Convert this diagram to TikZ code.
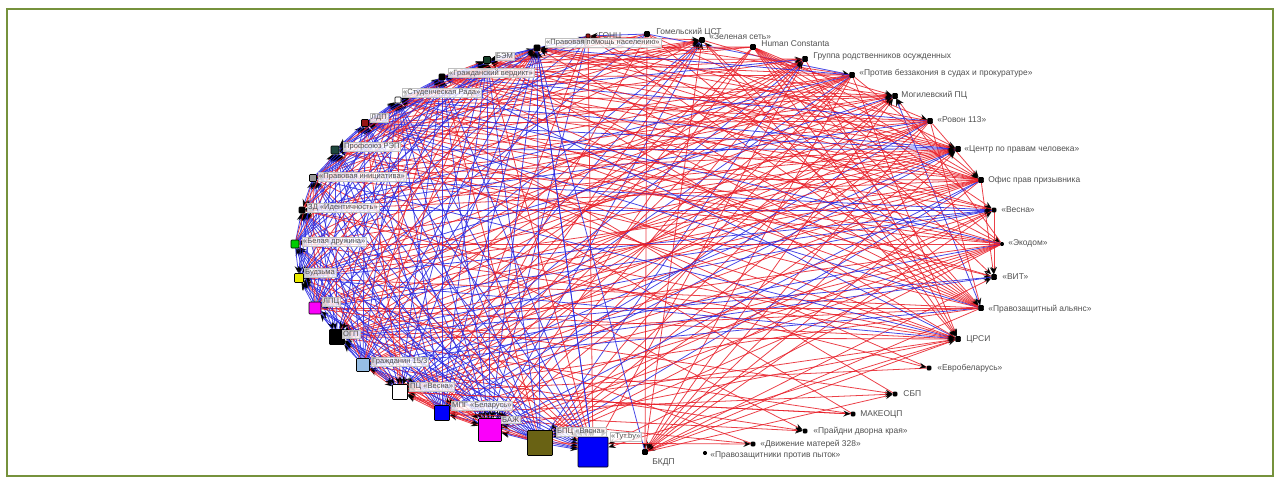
\documentclass[tikz,border=0pt]{standalone}
\usepackage{fontspec}
\setmainfont{Liberation Sans}
\usetikzlibrary{arrows.meta}
\pgfdeclarelayer{bg}
\pgfsetlayers{bg,main}
\definecolor{framegreen}{RGB}{118,146,60}
\definecolor{ered}{RGB}{232,30,40}
\definecolor{eblue}{RGB}{40,40,225}
\definecolor{vblue}{RGB}{0,0,250}
\definecolor{volive}{RGB}{105,98,20}
\definecolor{vmag}{RGB}{250,0,250}
\definecolor{vlblue}{RGB}{150,190,228}
\definecolor{vyellow}{RGB}{235,235,0}
\definecolor{vgreen}{RGB}{0,205,0}
\definecolor{vgrey}{RGB}{150,150,150}
\definecolor{vteal}{RGB}{30,72,62}
\definecolor{vdred}{RGB}{150,20,20}
\definecolor{vdgreen}{RGB}{20,62,40}
\definecolor{labeltext}{RGB}{80,80,80}
\tikzset{
  vtx/.style={rectangle, draw=black, line width=0.3pt, inner sep=0pt, minimum size=#1*0.02cm, rounded corners=0.4pt},
  lbl/.style={anchor=west, font=\fontsize{4.8}{5.5}\selectfont, text=labeltext, inner sep=0.6pt},
  lblbox/.style={anchor=west, font=\fontsize{4.3}{5}\selectfont, text=labeltext, inner sep=0.6pt, fill=white, fill opacity=0.8, text opacity=1, draw=black!25, line width=0.2pt},
  edge/.style={line width=0.45pt, draw opacity=0.85, -{Stealth[length=4.2pt,width=3.4pt,color=black]}},
}
\def\grp{{0,0,0,1,1,1,1,1,1,1,1,1,1,1,1,1,2,2,2,2,2,5,3,4,4,4,4,4,4,4,4,4,4,4,4,4,4,4,4,4,4}}
\def\Tab{{70,35,0,40,45,0, 0,25,0,80,70,0, 0,0,0,15,12,0, 0,0,0,0,45,0, 0,0,0,0,90,0, 0,0,0,0,0,0}}
\def\Btab{{50,25,0,0,55,0, 0,5,0,0,24,0, 0,0,0,0,0,0, 0,0,0,0,15,0, 0,0,0,0,76,0, 0,0,0,0,0,0}}
\begin{document}
\begin{tikzpicture}[x=0.02cm,y=-0.02cm]
\useasboundingbox (0,0) rectangle (1280,483);
\draw[framegreen, line width=0.04cm] (7,9) rectangle (1273,476);

% vertices
\foreach \k/\x/\y/\s/\c in {
 1/588/36/4/vdred, 2/647/34/5/black, 3/702/40/5/black, 4/753/47/5/black,
 5/805/59/5/black, 6/852/75/5/black, 7/895/96/5/black, 8/930/121/5/black,
 9/958/149/5/black, 10/981/180/5/black, 11/994/210/4/black, 12/1002/244/3/black,
 13/994/277/5/black, 14/981/308/5/black, 15/958/339/5/black, 16/929/368/4/black,
 17/895/394/4/black, 18/853/414/4/black, 19/805/431/4/black, 20/753/444/4/black,
 21/705/453/3/black, 22/645/452/5/black,
 23/593/452/30/vblue, 24/540/443/25/volive, 25/490/430/23/vmag, 26/442/413/15/vblue,
 27/400/392/15/white, 28/363/365/13/vlblue, 29/337/337/15/black, 30/315/308/12/vmag,
 31/299/278/9/vyellow, 32/295/244/8/vgreen, 33/302/210/6/black, 34/313/178/7/vgrey,
 35/335/150/8/vteal, 36/365/123/7/vdred, 37/398/100/6/white, 38/442/77/6/black,
 39/487/60/7/vdgreen, 40/537/48/6/black}
 {\node[vtx=\s, fill=\c] (n\k) at (\x,\y) {};}

% edges
\begin{pgfonlayer}{bg}
\foreach \i in {1,...,39}{
  \pgfmathtruncatemacro\ii{\i+1}
  \foreach \j in {\ii,...,40}{
    \pgfmathtruncatemacro\ga{\grp[\i]}
    \pgfmathtruncatemacro\gb{\grp[\j]}
    \pgfmathtruncatemacro\cc{min(\ga,\gb)*6+max(\ga,\gb)}
    \pgfmathtruncatemacro\th{\Tab[\cc]}
    \pgfmathtruncatemacro\bl{\Btab[\cc]}
    \pgfmathtruncatemacro\h{mod(\i*37+\j*53+mod(\i*\j,97)*11,100)}
    \pgfmathtruncatemacro\hb{mod(\i*17+\j*29+mod(\i*\j,89)*7+13,100)}
    \pgfmathtruncatemacro\dir{mod(\i*\j+\i,2)}
    \ifnum\h<\th
      \ifnum\hb<\bl \def\ec{eblue}\else\def\ec{ered}\fi
      \ifnum\dir=0
        \draw[edge,\ec] (n\i) -- (n\j);
      \else
        \draw[edge,\ec] (n\j) -- (n\i);
      \fi
    \fi
  }
}
\draw[edge,ered] (n33) -- (n16);
\draw[edge,ered] (n30) -- (n17);
\draw[edge,ered] (n27) -- (n18);
\draw[edge,ered] (n26) -- (n19);
\draw[edge,ered] (n24) -- (n20);
\draw[edge,eblue] (n40) -- (n23);
\end{pgfonlayer}

% labels
\node[lbl] (l1) at (597,36) {ГОНЦ};
\node[lbl] (l2) at (655,32) {Гомельский ЦСТ};
\node[lbl] (l3) at (708,37) {«Зеленая сеть»};
\node[lbl] (l4) at (760,44) {Human Constanta};
\node[lbl] (l5) at (812,56) {Группа родственников осужденных};
\node[lbl] (l6) at (858,73) {«Против беззакония в судах и прокуратуре»};
\node[lbl] (l7) at (900,95) {Могилевский ПЦ};
\node[lbl] (l8) at (936,120) {«Ровон 113»};
\node[lbl] (l9) at (963,149) {«Центр по правам человека»};
\node[lbl] (l10) at (987,180) {Офис прав призывника};
\node[lbl] (l11) at (1000,210) {«Весна»};
\node[lbl] (l12) at (1007,243) {«Экодом»};
\node[lbl] (l13) at (1001,277) {«ВИТ»};
\node[lbl] (l14) at (987,309) {«Правозащитный альянс»};
\node[lbl] (l15) at (965,339) {ЦРСИ};
\node[lbl] (l16) at (936,368) {«Евробеларусь»};
\node[lbl] (l17) at (902,394) {СБП};
\node[lbl] (l18) at (859,414) {МАКЕОЦП};
\node[lbl] (l19) at (812,431) {«Прайдни дворна края»};
\node[lbl] (l20) at (759,444) {«Движение матерей 328»};
\node[lbl] (l21) at (709,455) {«Правозащитники против пыток»};
\node[lbl] (l22) at (651,462) {БКДП};
\node[lblbox] (l23) at (610,437) {«Тут.by»};
\node[lblbox] (l24) at (556,432) {БПЦ «Вясна»};
\node[lblbox] (l25) at (501,420) {БАЖ};
\node[lblbox] (l26) at (451,406) {МПГ «Беларусь»};
\node[lblbox] (l27) at (409,387) {ПЦ «Весна»};
\node[lblbox] (l28) at (371,362) {Гражданин 15/3};
\node[lblbox] (l29) at (342,334) {ОГП};
\node[lblbox] (l30) at (322,302) {ЛПЦ};
\node[lblbox] (l31) at (304,273) {Будзьма};
\node[lblbox] (l32) at (302,242) {«Белая дружина»};
\node[lblbox] (l33) at (307,208) {ЗД «Идентичность»};
\node[lblbox] (l34) at (318,177) {«Правовая инициатива»};
\node[lblbox] (l35) at (343,147) {Профсоюз РЭП};
\node[lblbox] (l36) at (370,118) {ЛДП};
\node[lblbox] (l37) at (402,93) {«Студенческая Рада»};
\node[lblbox] (l38) at (448,73) {«Гражданский вердикт»};
\node[lblbox] (l39) at (495,56) {БЭМ};
\node[lblbox] (l40) at (545,43) {«Правовая помощь населению»};
\end{tikzpicture}
\end{document}
